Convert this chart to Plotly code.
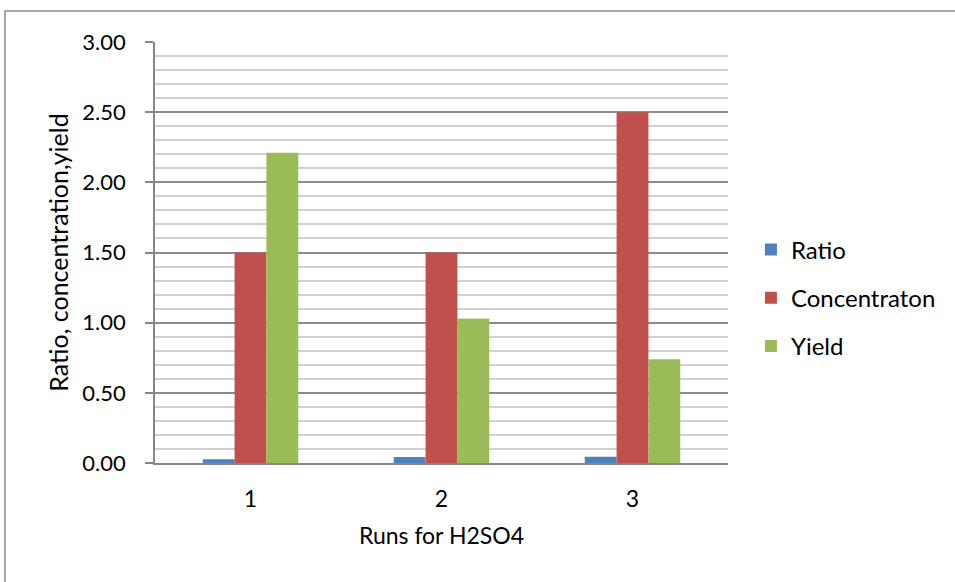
import plotly.graph_objects as go

runs = ["1", "2", "3"]
ratio = [0.026, 0.043, 0.045]
concentration = [1.50, 1.50, 2.50]
yield_vals = [2.21, 1.03, 0.74]
y_ticks = [0.0, 0.5, 1.0, 1.5, 2.0, 2.5, 3.0]
y_labels = ["0.00", "0.50", "1.00", "1.50", "2.00", "2.50", "3.00"]

FONT = "Lato"

fig = go.Figure()
for name, vals, col in [("Ratio", ratio, "#4F81BD"),
                        ("Concentraton", concentration, "#C0504D"),
                        ("Yield", yield_vals, "#9BBB59")]:
    fig.add_trace(go.Bar(x=runs, y=vals, name=name, marker_color=col,
                         marker_line_width=0, legendgroup=name))

fig.update_layout(
    width=955, height=582,
    margin=dict(l=155, r=227, t=42, b=119),
    paper_bgcolor="white", plot_bgcolor="white",
    barmode="group", bargap=0.5, bargroupgap=0,
    font=dict(family=FONT, size=24, color="#000000"),
    legend=dict(x=1.04, xanchor="left", y=0.392, yanchor="middle",
                font=dict(size=24), tracegroupgap=14,
                itemwidth=30, bgcolor="rgba(0,0,0,0)"),
    showlegend=True,
)
fig.update_xaxes(
    type="category", showgrid=False, showline=True, linecolor="#868686",
    linewidth=1.5, ticks="", tickfont=dict(size=23), ticklabelstandoff=15,
    title=dict(text="Runs for H2SO4", font=dict(size=23), standoff=17),
)
fig.update_yaxes(
    range=[0, 3.0], tickvals=y_ticks, ticktext=y_labels,
    showline=True, linecolor="#868686", linewidth=1.5,
    ticks="outside", ticklen=8, tickcolor="#868686", tickwidth=1.5,
    ticklabelstandoff=15,
    showgrid=True, gridcolor="#8C8C8C", gridwidth=1.5,
    minor=dict(dtick=0.1, showgrid=True, gridcolor="#D0D0D0", gridwidth=1.5, ticks=""),
    tickfont=dict(size=22),
    title=dict(text="Ratio, concentration,yield", font=dict(size=25), standoff=7),
    zeroline=False,
)
# chart border
fig.add_shape(type="rect", xref="paper", yref="paper",
              x0=-0.2618, x1=1.41, y0=-0.31, y1=1.0736,
              line=dict(color="#8A8A8A", width=1.5), fillcolor="rgba(0,0,0,0)",
              layer="below")

fig.write_html("out.html", config={"displayModeBar": False},
               post_script="document.body.style.margin='0';")
